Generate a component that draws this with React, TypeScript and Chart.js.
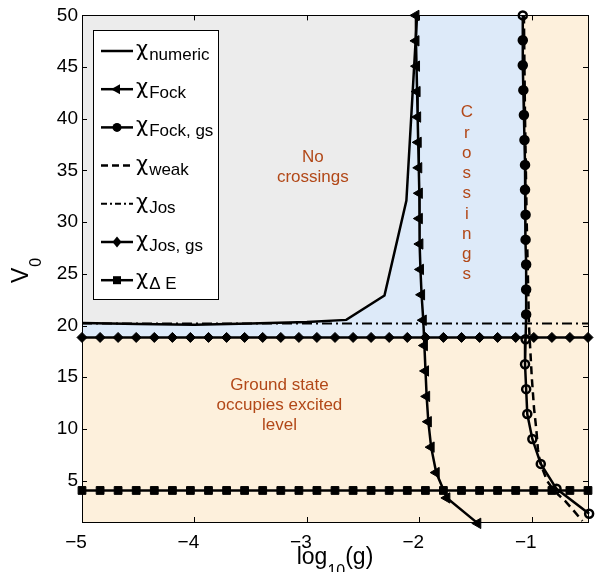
import React, { useEffect, useRef } from "react";
import { Chart, registerables } from "chart.js";

Chart.register(...registerables);

// ---------------- data ----------------
const xTickValues = [-5, -4, -3, -2, -1];
const yTickValues = [5, 10, 15, 20, 25, 30, 35, 40, 45, 50];
const xMin = -5;
const xMax = -0.5;
const yMin = 1;
const yMax = 50;

// chi numeric: boundary of the "no crossings" region
const numericX = [-5, -4.5, -4, -3.5, -3, -2.65, -2.31, -2.115, -2.02];
const numericV = [20.25, 20.15, 20.08, 20.2, 20.35, 20.55, 22.9, 32.1, 50];

// chi Fock (left-pointing triangles)
const fockV = [50, 47.54, 45.09, 42.63, 40.17, 37.72, 35.26, 32.8, 30.35, 27.89, 25.43, 22.98, 20.52, 18.07, 15.61, 13.15, 10.7, 8.24, 5.78, 3.33, 0.87];
const fockX = [-2.03, -2.03, -2.025, -2.02, -2.015, -2.01, -2.005, -2.0, -2.0, -1.995, -1.99, -1.98, -1.965, -1.955, -1.945, -1.935, -1.92, -1.895, -1.85, -1.755, -1.48];

// chi Fock, gs (circles)
const fockGsV = [50, 47.59, 45.18, 42.77, 40.36, 37.95, 35.54, 33.13, 30.72, 28.31, 25.9, 23.49, 21.08, 18.67, 16.26, 13.85, 11.44, 9.03, 6.62, 4.21, 1.8];
const fockGsX = [-1.08, -1.08, -1.08, -1.075, -1.07, -1.065, -1.06, -1.06, -1.055, -1.055, -1.05, -1.05, -1.05, -1.055, -1.06, -1.05, -1.04, -0.995, -0.92, -0.78, -0.49];

// chi weak (dashed)
const weakV = [50, 40, 30, 25, 20, 15, 12, 10, 8, 7, 6, 5, 4, 3, 2, 1.1];
const weakX = [-1.07, -1.06, -1.045, -1.035, -1.025, -1.0, -0.98, -0.96, -0.945, -0.93, -0.9, -0.865, -0.8, -0.7, -0.62, -0.55];

// chi Jos (dash-dot)
const josX = [-5, -0.5];
const josV = [20.2, 20.2];

// chi Jos, gs (diamonds) and chi Delta E (squares): horizontal marker lines
const markerGridX = [-5, -4.839, -4.679, -4.518, -4.357, -4.196, -4.036, -3.875, -3.714, -3.554, -3.393, -3.232, -3.071, -2.911, -2.75, -2.589, -2.429, -2.268, -2.107, -1.946, -1.786, -1.625, -1.464, -1.304, -1.143, -0.982, -0.821, -0.661, -0.5];
const josGsV = 18.85;
const deltaEV = 4.05;

const legendLabels = ["numeric", "Fock", "Fock, gs", "weak", "Jos", "Jos, gs", "\u0394 E"];

const noCrossLines = ["No", "crossings"];
const crossingLetters = ["C", "r", "o", "s", "s", "i", "n", "g", "s"];
const groundLines = ["Ground state", "occupies excited", "level"];

// ---------------- styles ----------------
const FONT = '"Liberation Sans", Arial, Helvetica, sans-serif';
const CHI_FONT = '"DejaVu Sans", "Liberation Sans", sans-serif';
const ORANGE = "rgb(253,240,220)";
const BLUE = "rgb(221,234,249)";
const GREY = "rgb(236,236,236)";
const TEXT_BROWN = "rgb(178,72,24)";
const LW = 2.5;

const pts = (xs: number[], ys: number[]) => xs.map((x, i) => ({ x, y: ys[i] }));
const flat = (xs: number[], v: number) => xs.map((x) => ({ x, y: v }));
const fmt = (v: number) => String(v).replace("-", "\u2212");

function drawMarker(ctx: CanvasRenderingContext2D, kind: string, cx: number, cy: number) {
  ctx.save();
  ctx.fillStyle = "#000";
  ctx.strokeStyle = "#000";
  ctx.lineWidth = 1;
  ctx.beginPath();
  if (kind === "tri") {
    ctx.moveTo(cx - 6, cy);
    ctx.lineTo(cx + 3, cy - 5);
    ctx.lineTo(cx + 3, cy + 5);
    ctx.closePath();
    ctx.fill();
  } else if (kind === "circ") {
    ctx.arc(cx, cy, 4.5, 0, Math.PI * 2);
    ctx.fill();
  } else if (kind === "dia") {
    ctx.moveTo(cx, cy - 5.5);
    ctx.lineTo(cx + 4.5, cy);
    ctx.lineTo(cx, cy + 5.5);
    ctx.lineTo(cx - 4.5, cy);
    ctx.closePath();
    ctx.fill();
  } else if (kind === "sq") {
    ctx.rect(cx - 4, cy - 4, 8, 8);
    ctx.fill();
  }
  ctx.restore();
}

const legendStyles = [
  { dash: [] as number[], marker: "", lw: LW },
  { dash: [], marker: "tri", lw: LW },
  { dash: [], marker: "circ", lw: LW },
  { dash: [7, 4], marker: "", lw: LW },
  { dash: [6, 3, 2, 3], marker: "", lw: 2 },
  { dash: [], marker: "dia", lw: LW },
  { dash: [], marker: "sq", lw: LW },
];

const regionsPlugin = {
  id: "regions",
  beforeDatasetsDraw(chart: any) {
    const { ctx, chartArea: a, scales } = chart;
    const X = (v: number) => scales.x.getPixelForValue(v);
    const Y = (v: number) => scales.y.getPixelForValue(v);
    ctx.save();
    ctx.beginPath();
    ctx.rect(a.left, a.top, a.right - a.left, a.bottom - a.top);
    ctx.clip();
    ctx.fillStyle = ORANGE;
    ctx.fillRect(a.left, a.top, a.right - a.left, a.bottom - a.top);
    // crossings region (blue)
    ctx.beginPath();
    ctx.moveTo(X(xMin), Y(josGsV));
    ctx.lineTo(X(xMin), Y(yMax));
    let lastX = fockGsX[0];
    for (let i = 0; i < fockGsV.length; i++) {
      if (fockGsV[i] < josGsV) break;
      ctx.lineTo(X(fockGsX[i]), Y(fockGsV[i]));
      lastX = fockGsX[i];
    }
    ctx.lineTo(X(lastX), Y(josGsV));
    ctx.closePath();
    ctx.fillStyle = BLUE;
    ctx.fill();
    // no crossings (grey)
    ctx.beginPath();
    ctx.moveTo(X(xMin), Y(yMax));
    for (let i = 0; i < numericX.length; i++) ctx.lineTo(X(numericX[i]), Y(numericV[i]));
    ctx.closePath();
    ctx.fillStyle = GREY;
    ctx.fill();
    ctx.restore();
  },
  afterDatasetsDraw(chart: any) {
    const { ctx, chartArea: a, scales } = chart;
    ctx.save();
    ctx.strokeStyle = "#000";
    ctx.lineWidth = 1;
    ctx.beginPath();
    for (const v of xTickValues) {
      const px = Math.round(scales.x.getPixelForValue(v)) + 0.5;
      ctx.moveTo(px, a.bottom);
      ctx.lineTo(px, a.bottom - 5);
      ctx.moveTo(px, a.top);
      ctx.lineTo(px, a.top + 5);
    }
    for (const v of yTickValues) {
      const py = Math.round(scales.y.getPixelForValue(v)) + 0.5;
      ctx.moveTo(a.left, py);
      ctx.lineTo(a.left + 5, py);
      ctx.moveTo(a.right, py);
      ctx.lineTo(a.right - 5, py);
    }
    ctx.stroke();
    ctx.strokeRect(Math.round(a.left) + 0.5, Math.round(a.top) + 0.5, Math.round(a.right - a.left), Math.round(a.bottom - a.top));
    ctx.restore();
  },
  afterDraw(chart: any) {
    const { ctx, chartArea: a, scales } = chart;
    const X = (v: number) => scales.x.getPixelForValue(v);
    const Y = (v: number) => scales.y.getPixelForValue(v);
    ctx.save();

    // annotations
    ctx.fillStyle = TEXT_BROWN;
    ctx.font = `17px ${FONT}`;
    ctx.textAlign = "center";
    ctx.textBaseline = "alphabetic";
    noCrossLines.forEach((t, i) => ctx.fillText(t, X(-2.947), Y(35.82) + i * 19.5));
    crossingLetters.forEach((t, i) => ctx.fillText(t, X(-1.578), Y(40.14) + i * 20.25));
    groundLines.forEach((t, i) => ctx.fillText(t, X(-3.244), Y(13.76) + i * 20));

    // legend
    const bx = 93.5, by = 30.5, bw = 125, bh = 269;
    ctx.fillStyle = "#fff";
    ctx.fillRect(bx, by, bw, bh);
    ctx.strokeStyle = "#000";
    ctx.lineWidth = 1;
    ctx.strokeRect(bx, by, bw, bh);
    legendLabels.forEach((lab, i) => {
      const ry = 51 + i * 38.2;
      const st = legendStyles[i];
      ctx.save();
      ctx.strokeStyle = "#000";
      ctx.lineWidth = st.lw;
      ctx.setLineDash(st.dash);
      ctx.beginPath();
      ctx.moveTo(101, ry);
      ctx.lineTo(133, ry);
      ctx.stroke();
      ctx.restore();
      if (st.marker) drawMarker(ctx, st.marker, 117, ry);
      ctx.fillStyle = "#000";
      ctx.textAlign = "left";
      ctx.font = `21px ${CHI_FONT}`;
      ctx.fillText("\u03c7", 136, ry + 5);
      const w = ctx.measureText("\u03c7").width;
      ctx.font = `17px ${FONT}`;
      ctx.fillText(lab, 136 + w + 1, ry + 9);
    });

    // x axis title: log10(g)
    ctx.fillStyle = "#000";
    ctx.textAlign = "left";
    ctx.font = `23px ${FONT}`;
    const w1 = ctx.measureText("log").width;
    const w3 = ctx.measureText("(g)").width;
    ctx.font = `16px ${FONT}`;
    const w2 = ctx.measureText("10").width;
    const cx = (a.left + a.right) / 2;
    const sx = cx - (w1 + w2 + w3) / 2;
    ctx.font = `23px ${FONT}`;
    ctx.fillText("log", sx, 564);
    ctx.font = `16px ${FONT}`;
    ctx.fillText("10", sx + w1, 576);
    ctx.font = `23px ${FONT}`;
    ctx.fillText("(g)", sx + w1 + w2, 564);

    // y axis title: V0
    ctx.save();
    ctx.translate(28, 283);
    ctx.rotate(-Math.PI / 2);
    ctx.font = `23px ${FONT}`;
    ctx.fillText("V", 0, 0);
    const wv = ctx.measureText("V").width;
    ctx.font = `16px ${FONT}`;
    ctx.fillText("0", wv + 1, 13);
    ctx.restore();

    ctx.restore();
  },
};

export default function App() {
  const ref = useRef<HTMLCanvasElement>(null);
  useEffect(() => {
    if (!ref.current) return;
    const black = "#000";
    const chart = new Chart(ref.current, {
      type: "scatter",
      data: {
        datasets: [
          {
            label: "numeric",
            data: pts(numericX, numericV),
            showLine: true,
            borderColor: black,
            borderWidth: LW,
            pointRadius: 0,
          },
          {
            label: "Fock",
            data: pts(fockX, fockV),
            showLine: true,
            borderColor: black,
            borderWidth: LW,
            pointStyle: "triangle",
            pointRotation: -90,
            pointRadius: 6,
            pointBackgroundColor: black,
            pointBorderColor: black,
            pointBorderWidth: 1,
            clip: false,
          } as any,
          {
            label: "Fock, gs",
            data: pts(fockGsX, fockGsV),
            showLine: true,
            borderColor: black,
            borderWidth: LW,
            pointStyle: "circle",
            pointRadius: 4,
            pointBorderWidth: 2.5,
            pointBorderColor: black,
            pointBackgroundColor: (c: any) =>
              c.dataIndex === 0 || fockGsV[c.dataIndex] < 20 ? "rgba(0,0,0,0)" : black,
            clip: false,
          } as any,
          {
            label: "weak",
            data: pts(weakX, weakV),
            showLine: true,
            borderColor: black,
            borderWidth: LW,
            borderDash: [8, 5],
            pointRadius: 0,
          },
          {
            label: "Jos",
            data: pts(josX, josV),
            showLine: true,
            borderColor: black,
            borderWidth: 2,
            borderDash: [10, 4, 2, 4],
            pointRadius: 0,
          },
          {
            label: "Jos, gs",
            data: flat(markerGridX, josGsV),
            showLine: true,
            borderColor: black,
            borderWidth: LW,
            pointStyle: "rectRot",
            pointRadius: 5,
            pointBackgroundColor: black,
            pointBorderColor: black,
            pointBorderWidth: 1,
            clip: false,
          } as any,
          {
            label: "Delta E",
            data: flat(markerGridX, deltaEV),
            showLine: true,
            borderColor: black,
            borderWidth: LW,
            pointStyle: "rect",
            pointRadius: 5.5,
            pointBackgroundColor: black,
            pointBorderColor: black,
            pointBorderWidth: 1,
            clip: false,
          } as any,
        ],
      },
      options: {
        animation: false,
        responsive: false,
        layout: { padding: { top: 15, right: 6, left: 0, bottom: 0 } },
        plugins: { legend: { display: false }, tooltip: { enabled: false }, title: { display: false } },
        scales: {
          x: {
            type: "linear",
            min: xMin,
            max: xMax,
            grid: { display: false, drawTicks: false },
            border: { display: false },
            afterBuildTicks: (s: any) => {
              s.ticks = xTickValues.map((v) => ({ value: v }));
            },
            afterFit: (s: any) => {
              s.height = 50;
            },
            ticks: {
              color: "#000",
              font: { family: FONT, size: 19 },
              padding: 9,
              labelOffset: -6,
              autoSkip: false,
              maxRotation: 0,
              callback: (v: any) => fmt(Number(v)),
            },
          },
          y: {
            type: "linear",
            min: yMin,
            max: yMax,
            grid: { display: false, drawTicks: false },
            border: { display: false },
            afterBuildTicks: (s: any) => {
              s.ticks = yTickValues.map((v) => ({ value: v }));
            },
            afterFit: (s: any) => {
              s.width = 82;
            },
            ticks: {
              color: "#000",
              font: { family: FONT, size: 19 },
              padding: 4,
              autoSkip: false,
              callback: (v: any) => fmt(Number(v)),
            },
          },
        },
      } as any,
      plugins: [regionsPlugin],
    });
    return () => chart.destroy();
  }, []);

  return (
    <div style={{ position: "absolute", left: 0, top: 0, width: 595, height: 572 }}>
      <canvas ref={ref} width={595} height={572} style={{ display: "block", width: 595, height: 572 }} />
    </div>
  );
}
